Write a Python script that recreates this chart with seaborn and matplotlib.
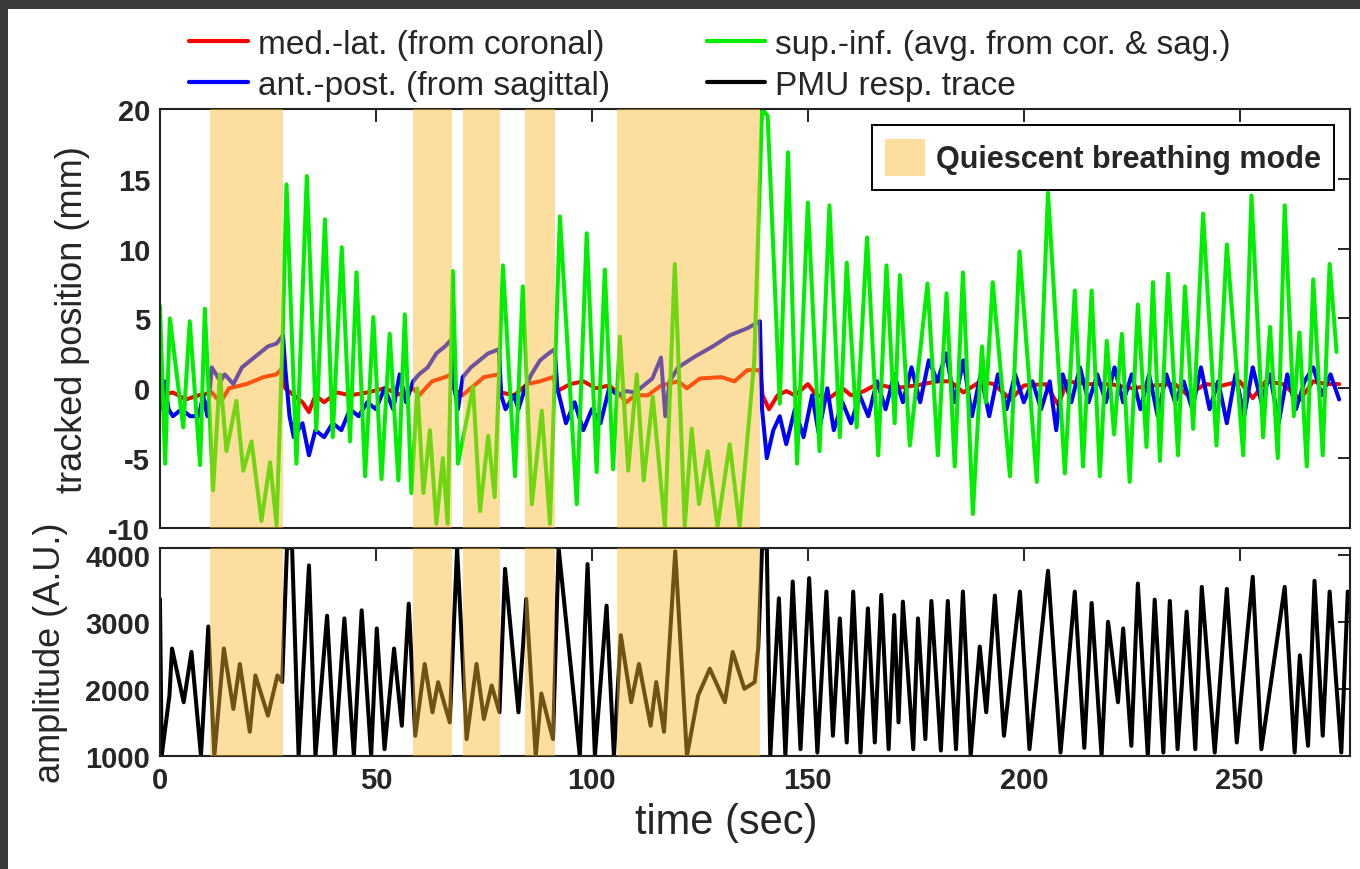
import matplotlib
matplotlib.use('Agg')
import matplotlib.pyplot as plt
from matplotlib.patches import Patch, Rectangle
from matplotlib.lines import Line2D
import pandas as pd
import seaborn as sns

# quiescent breathing windows (sec)
quiet_start = [11.6, 58.6, 70.1, 84.5, 105.8]
quiet_end = [28.5, 67.6, 78.7, 91.4, 139.0]

green_t = [0.0, 1.2, 2.3, 5.4, 6.9, 9.3, 10.4, 12.3, 13.9, 15.4, 17.7, 19.3, 21.2, 23.5, 25.5, 27.0,
           28.5, 29.3, 31.6, 34.0, 36.2, 38.2, 40.0, 42.1, 44.0, 45.5, 47.5, 49.4, 51.3, 53.2, 55.2,
           56.7, 58.2, 59.6, 61.0, 62.5, 64.0, 65.5, 66.6, 67.8, 69.0, 72.5, 74.1, 76.0, 77.5, 79.4,
           82.2, 84.0, 86.1, 88.4, 90.3, 92.6, 96.5, 98.8, 101.1, 103.0, 104.9, 106.5, 108.4, 110.4,
           112.0, 114.1, 116.9, 119.2, 121.5, 123.1, 124.8, 126.8, 129.1, 131.9, 134.2, 137.6, 139.4,
           140.7, 143.5, 145.4, 147.5, 150.0, 152.7, 155.0, 157.4, 159.0, 161.3, 163.7, 166.3, 168.2,
           170.1, 171.3, 173.6, 177.7, 180.1, 182.1, 184.0, 185.9, 188.2, 190.3, 191.2, 192.8, 196.8,
           199.0, 203.0, 205.6, 209.5, 211.8, 213.7, 215.7, 217.6, 219.2, 220.9, 222.7, 224.5, 226.4,
           228.4, 229.9, 231.5, 233.4, 235.7, 237.3, 239.2, 241.5, 244.6, 247.0, 250.8, 252.7, 255.4,
           257.0, 258.8, 260.4, 262.5, 263.8, 265.5, 267.0, 269.2, 270.8, 272.4]
green_v = [5.9, -5.4, 5.0, -2.8, 4.8, -5.5, 5.7, -7.3, 1.0, -4.5, -0.9, -5.9, -3.8, -9.5, -5.3, -9.8,
           4.7, 14.6, -5.4, 15.2, -3.0, 12.1, -3.5, 10.1, -3.8, 8.3, -6.3, 5.1, -6.5, 3.9, -6.6,
           5.3, -7.5, 0.0, -7.5, -3.0, -9.7, -5.0, -9.7, 8.4, -5.4, 0.1, -8.8, -3.4, -7.8, 8.8,
           -6.3, 7.3, -8.3, -1.6, -9.7, 12.3, -8.3, 11.1, -6.0, 8.5, -5.8, 3.7, -5.9, 1.0,
           -6.6, -0.6, -9.9, 8.9, -9.9, -2.9, -8.3, -4.5, -9.9, -4.0, -9.9, 2.0, 20.0,
           19.5, -1.1, 16.9, -5.4, 13.3, -4.5, 13.1, -3.5, 9.0, -2.8, 10.8, -4.8, 8.8,
           -2.5, 8.1, -4.1, 7.5, -4.8, 6.8, -5.6, 8.3, -9.0, 3.0, -1.0, 7.6, -6.3,
           9.8, -6.7, 14.0, -6.1, 7.0, -5.6, 7.0, -6.3, 3.4, -3.3, 3.9, -6.7, 6.0,
           -4.2, 7.6, -5.2, 8.2, -4.8, 7.3, -2.9, 12.5, -4.1, 10.3, -4.8, 13.8, -3.5,
           4.4, -5.0, 13.1, -2.0, 4.0, -5.6, 7.8, -4.8, 8.9, 2.6]

# med.-lat. (red)
red_t = [0, 3, 6, 9, 12, 14, 16, 20, 24, 27, 28.5, 29, 31, 33, 34.5, 36, 38, 41, 44, 48, 52, 56,
         58.6, 60, 63, 66, 67.6, 68, 70, 72, 75, 78.5, 79, 82, 85, 88, 91, 92, 95, 98, 101, 104,
         106, 108, 110, 113, 116, 120, 122, 125, 130, 133, 136, 139, 139.5, 141, 143, 145, 147,
         150, 152, 155, 158, 160, 163, 166, 170, 175, 180, 183, 186, 190, 193, 197, 200, 205,
         208, 210, 215, 220, 225, 230, 235, 238, 242, 246, 250, 253, 256, 260, 264, 267, 270, 273]
red_v = [-0.5, -0.3, -0.8, -0.5, -0.3, -1.0, 0.0, 0.3, 0.8, 1.0, 1.5, 0.0, -0.5, -1.0, -1.7, -0.5,
         -1.0, -0.3, -0.5, -0.3, 0.0, -0.5, 0.0, -0.5, 0.5, 0.8, 1.0, 0.0, -0.5, 0.0, 0.8, 1.0,
         -0.3, -0.5, 0.3, 0.5, 0.8, -0.2, 0.3, 0.5, 0.0, 0.2, -0.3, -1.0, -0.5, -0.5, 0.2, 0.5,
         0.0, 0.7, 0.8, 0.5, 1.3, 1.3, -0.5, -1.5, -0.5, -0.2, -0.5, 0.3, -0.5, -0.7, 0.0, -0.5,
         -0.2, 0.3, 0.0, 0.2, 0.5, 0.5, -0.3, 0.5, 0.3, -0.8, 0.2, 0.3, -1.2, 0.5, 0.3, 0.3,
         0.0, 0.2, 0.3, -0.5, 0.3, 0.2, 0.5, -0.7, 0.5, 0.3, -0.8, 0.5, 0.3, 0.3]

# ant.-post. (blue)
blue_t = [0, 1, 2, 3, 5, 7, 9, 10, 11, 12, 14, 15, 17, 19, 21, 23, 25, 27, 28.5, 29, 30, 31, 33,
          34.5, 36, 38, 40, 42, 44, 46, 48, 50, 52, 54, 55.5, 57, 58.6, 60, 62, 64, 66, 67.5, 68,
          69, 70.1, 72, 74, 76, 78.5, 79, 80, 82, 83, 84.5, 86, 88, 90, 91.4, 92, 94, 96, 98, 100,
          102, 104, 106, 108, 110, 112, 114, 116, 117, 118, 120, 124, 128, 132, 136, 138.9, 139.4,
          140.5, 142, 143.5, 145, 147, 149, 151, 152.5, 154.5, 156, 158, 160, 162, 164, 166, 168,
          170, 172, 174, 176, 178, 180, 182, 184, 186, 188, 190, 192, 194, 196, 198, 200, 202,
          204, 206, 207.5, 209, 211, 213, 215, 217, 219, 221, 223, 225, 227, 229, 231, 233, 235,
          237, 239, 241, 243, 245, 247, 249, 251, 253, 255, 257, 259, 261, 263, 265, 267, 269,
          271, 273]
blue_v = [-1.5, 0.5, -1.5, -2.0, -1.5, -2.0, -2.0, -0.5, -2.0, 1.5, 0.5, 1.0, 0.3, 1.5, 2.0, 2.5,
          3.0, 3.2, 3.8, 1.5, -2.0, -3.5, -2.5, -4.8, -3.0, -3.5, -2.5, -3.0, -1.5, -2.0, -1.0,
          -1.5, 0.0, -1.5, 1.0, -1.0, 0.5, 1.0, 1.5, 2.5, 3.0, 3.5, 0.3, -1.5, 0.8, 1.5, 2.0,
          2.5, 2.8, -0.5, -1.5, -0.5, -1.5, 0.0, 1.0, 2.0, 2.5, 2.8, 0.0, -2.5, -1.0, -3.0, -1.5,
          -2.5, 0.0, -0.5, -0.2, -0.3, 0.2, 0.7, 2.2, -2.0, 0.5, 1.5, 2.3, 3.0, 3.8, 4.3, 4.8,
          -1.5, -5.0, -3.0, -2.0, -4.0, -1.5, -3.5, -0.5, -3.2, 0.0, -3.0, -1.0, -2.5, -0.5,
          -2.0, 0.5, -1.5, 1.0, -1.0, 1.5, -1.0, 2.0, 0.5, 2.5, -1.0, 2.0, -2.0, 1.0, -2.0, 1.0,
          -1.5, 1.0, -1.0, 0.5, -1.5, 0.5, -3.0, 1.0, -1.0, 1.5, -1.0, 1.0, -1.0, 1.5, -1.0, 1.0,
          -1.5, 1.0, -2.0, 1.0, -1.0, 0.5, -1.5, 1.5, -1.5, 0.5, -2.5, 1.0, -2.0, 1.5, -1.0, 1.0,
          -2.5, 1.0, -1.5, 0.5, 1.5, -0.5, 1.0, -0.8]

# PMU respiratory trace (A.U.)
pmu_t = [0.0, 0.4, 2.2, 2.8, 5.5, 7.3, 9.5, 11.2, 12.6, 14.8, 17.0, 18.5, 20.8, 22.1, 25.0, 27.2,
         28.3, 29.4, 30.6, 32.1, 34.5, 36.0, 38.7, 40.5, 42.7, 44.9, 46.7, 48.9, 50.2, 52.0, 54.2,
         56.0, 57.6, 59.1, 61.3, 63.1, 64.4, 67.1, 68.8, 71.0, 73.3, 75.0, 76.8, 78.6, 79.9, 83.0,
         84.8, 87.0, 88.3, 91.0, 92.3, 95.8, 97.2, 99.0, 100.7, 103.4, 105.1, 106.7, 109.1, 110.9,
         113.6, 114.9, 116.7, 119.3, 122.0, 124.6, 127.3, 130.8, 132.6, 135.3, 137.7, 138.5, 139.4,
         140.5, 141.3, 143.3, 144.8, 146.5, 148.3, 150.3, 152.2, 154.3, 155.8, 157.4, 159.0, 160.5,
         162.2, 163.9, 165.5, 167.0, 168.7, 170.0, 171.0, 172.0, 174.4, 175.5, 177.2, 178.6, 180.8,
         182.4, 184.3, 185.9, 187.7, 189.8, 191.3, 193.3, 195.4, 199.1, 201.3, 205.6, 208.5, 211.8,
         214.0, 215.7, 218.0, 219.5, 221.8, 223.0, 224.9, 226.4, 228.7, 230.3, 232.3, 233.8, 235.6,
         237.7, 239.7, 241.2, 244.2, 247.0, 249.3, 253.0, 255.0, 260.4, 262.7, 263.9, 265.8, 267.3,
         269.2, 270.8, 273.5, 275.0]
pmu_v = [3340, 1000, 1900, 2600, 1800, 2550, 1000, 2930, 1000, 2600, 1700, 2370, 1360, 2200, 1600, 2200,
         2100, 4100, 4100, 1000, 3840, 1000, 3090, 1000, 3050, 1000, 3170, 1000, 2900, 1100, 2600,
         1450, 3270, 1300, 2370, 1650, 2100, 1500, 4100, 1250, 2370, 1550, 2050, 1650, 3790, 1650,
         3340, 1000, 1930, 1250, 4100, 1900, 1000, 3860, 1000, 3240, 1000, 2800, 1800, 2370,
         1450, 2100, 1360, 4050, 1000, 1900, 2300, 1800, 2550, 2000, 2100, 2600, 4100,
         4100, 1000, 3350, 1000, 3600, 1100, 3650, 1050, 3450, 1300, 3050, 1200, 3450,
         1050, 3200, 1200, 3400, 1100, 3100, 1500, 3300, 1100, 3050, 1250, 3310, 1080,
         3310, 1100, 3450, 1000, 2630, 1650, 3390, 1300, 3450, 1100, 3760, 1050, 3450,
         1120, 3280, 1000, 3000, 1800, 2900, 1150, 3570, 1000, 3330, 1050, 3310, 1100,
         3150, 1100, 3520, 1050, 3490, 1200, 3670, 1100, 3520, 1050, 2500, 1150, 3610,
         1300, 3450, 1050, 3450]

sns.set_style('white')
plt.rcParams['font.family'] = ['Liberation Sans', 'DejaVu Sans']

fig = plt.figure(figsize=(13.6, 8.7), dpi=100)
fig.patch.set_facecolor('#3b3b3b')
fig.add_artist(Rectangle((8 / 1360, 0), 1, 1 - 10 / 870, transform=fig.transFigure,
                         facecolor='white', edgecolor='none', zorder=-5))

ax1 = fig.add_axes([0.1176, 0.392, 0.875, 0.4816])
ax2 = fig.add_axes([0.1176, 0.13, 0.875, 0.239])


def trace(ax, t, v, color):
    df = pd.DataFrame({'t': t, 'v': v})
    sns.lineplot(data=df, x='t', y='v', ax=ax, color=color, lw=2.9,
                 estimator=None, sort=False, legend=False, zorder=2)


trace(ax1, red_t, red_v, '#ff0000')
trace(ax1, blue_t, blue_v, '#0000ff')
trace(ax1, green_t, green_v, '#00ee00')
trace(ax2, pmu_t, pmu_v, 'black')

shade = '#f9b928'
for ax in (ax1, ax2):
    for s, e in zip(quiet_start, quiet_end):
        ax.axvspan(s, e, color=shade, alpha=0.45, lw=0, zorder=3)
    ax.set_xlim(0, 275.5)
    ax.tick_params(direction='in', top=True, right=True, length=9, width=1.4, pad=7)
    for sp in ax.spines.values():
        sp.set_color('#222222')
        sp.set_linewidth(1.5)
    ax.set_xlabel('')
    ax.set_ylabel('')

xt = [0, 50, 100, 150, 200, 250]
ax1.set_xticks(xt, [])
ax1.set_ylim(-10, 20)
ax1.set_yticks([-10, -5, 0, 5, 10, 15, 20], ['-10', '-5', '0', '5', '10', '15', '20'],
               fontweight='bold', fontsize=21)
ax2.set_ylim(1000, 4100)
ax2.set_yticks([1000, 2000, 3000, 4000], ['1000', '2000', '3000', '4000'],
               fontweight='bold', fontsize=21)
ax2.set_xticks(xt, [str(x) for x in xt], fontweight='bold', fontsize=21)

ax1.set_ylabel('tracked position (mm)', fontsize=26)
ax1.yaxis.set_label_coords(-0.059, 0.5)
ax2.set_ylabel('amplitude (A.U.)', fontsize=26)
ax2.yaxis.set_label_coords(-0.077, 0.5)
ax2.set_xlabel('time (sec)', fontsize=30)
ax2.xaxis.set_label_coords(0.4756, -0.22)

leg_q = ax1.legend(handles=[Patch(facecolor='#fcdf9e', edgecolor='none', label='Quiescent breathing mode')],
                   loc='upper right', bbox_to_anchor=(0.987, 0.962), borderaxespad=0,
                   fancybox=False, edgecolor='black', framealpha=1,
                   prop={'weight': 'bold', 'size': 22}, handlelength=1.3, handleheight=1.5,
                   handletextpad=0.35, borderpad=0.45)
leg_q.get_frame().set_linewidth(1.4)
leg_q.set_zorder(5)

handles = [Line2D([], [], color='#ff0000', lw=3), Line2D([], [], color='#0000ff', lw=3),
           Line2D([], [], color='#00ee00', lw=3), Line2D([], [], color='black', lw=3)]
labels = ['med.-lat. (from coronal)', 'ant.-post. (from sagittal)',
          'sup.-inf. (avg. from cor. & sag.)', 'PMU resp. trace']
fig.legend(handles, labels, ncol=2, loc='center', bbox_to_anchor=(0.522, 0.924), frameon=False,
           fontsize=24, handlelength=1.75, handletextpad=0.3, columnspacing=2.9, labelspacing=0.3)

fig.savefig('out.png', dpi=100, facecolor=fig.get_facecolor())
